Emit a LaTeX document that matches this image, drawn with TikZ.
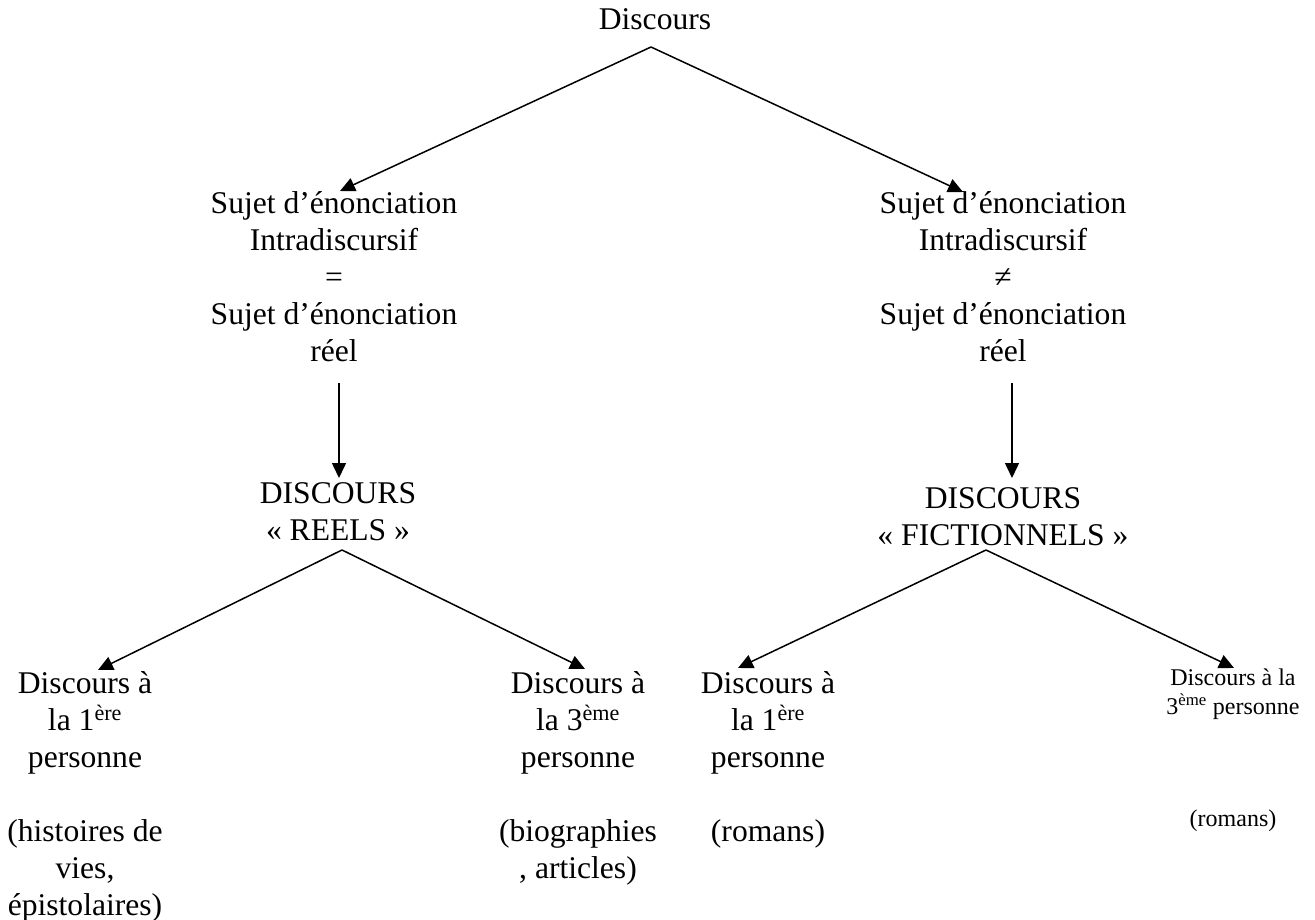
\documentclass[tikz,border=0pt]{standalone}
\usepackage{fontspec}
\setmainfont{Liberation Serif}
\usetikzlibrary{arrows.meta}
\newcommand{\bigtxt}{\fontsize{31.6}{37}\selectfont}
\newcommand{\smalltxt}{\fontsize{24}{28}\selectfont}
\newcommand{\blk}[1]{\begin{tabular}[t]{@{}c@{}}#1\end{tabular}}
\begin{document}
\begin{tikzpicture}[x=1pt,y=-1pt,
  lbl/.style={anchor=base,inner sep=0pt,font=\bigtxt},
  slbl/.style={anchor=base,inner sep=0pt,font=\smalltxt},
  conn/.style={line width=1.5pt,-{Triangle[length=15pt,width=14pt]}}]
\useasboundingbox (0,0) rectangle (1315,920);
% nodes
\node[lbl] (top) at (655,30) {Discours};
\node[lbl] (sl) at (334,214) {\blk{Sujet d’énonciation\\Intradiscursif\\=\\Sujet d’énonciation\\réel}};
\node[lbl] (sr) at (1003,214) {\blk{Sujet d’énonciation\\Intradiscursif\\≠\\Sujet d’énonciation\\réel}};
\node[lbl] (dr) at (338,503) {\blk{DISCOURS\\« REELS »}};
\node[lbl] (df) at (1003,508) {\blk{DISCOURS\\« FICTIONNELS »}};
\node[lbl] (ba) at (85,693) {\blk{Discours à\\la 1\textsuperscript{ère}\\personne\\ \\(histoires de\\vies,\\épistolaires)}};
\node[lbl] (bb) at (578,693) {\blk{Discours à\\la 3\textsuperscript{ème}\\personne\\ \\(biographies\\, articles)}};
\node[lbl] (bc) at (768,693) {\blk{Discours à\\la 1\textsuperscript{ère}\\personne\\ \\(romans)}};
\node[slbl] (bd) at (1233,685) {\blk{Discours à la\\3\textsuperscript{ème} personne\\ \\ \\ \\(romans)}};
% connector end points
\coordinate (a0) at (651,47);
\coordinate (t1) at (340,191);
\coordinate (t2) at (963,192);
\coordinate (v1s) at (339,383);
\coordinate (v1e) at (339,478);
\coordinate (v2s) at (1012,383);
\coordinate (v2e) at (1012,478);
\coordinate (a1) at (342,550);
\coordinate (a2) at (986,550);
\coordinate (tA) at (98,670);
\coordinate (tB) at (585,669);
\coordinate (tC) at (738,668);
\coordinate (tD) at (1234,668);
% connectors
\draw[conn] (a0) -- (t1);
\draw[conn] (a0) -- (t2);
\draw[conn] (v1s) -- (v1e);
\draw[conn] (v2s) -- (v2e);
\draw[conn] (a1) -- (tA);
\draw[conn] (a1) -- (tB);
\draw[conn] (a2) -- (tC);
\draw[conn] (a2) -- (tD);
\end{tikzpicture}
\end{document}
